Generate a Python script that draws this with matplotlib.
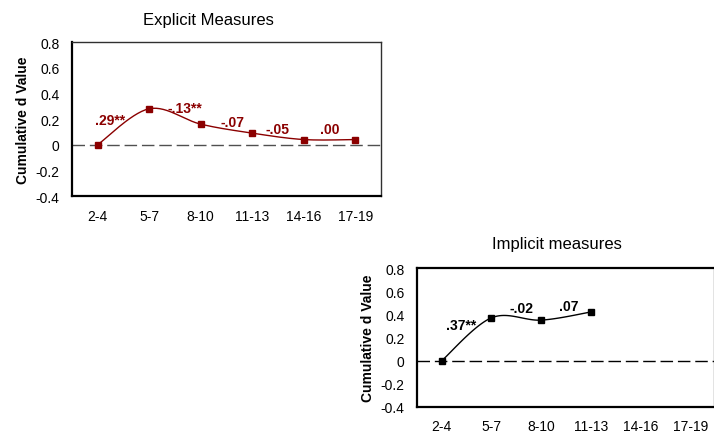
import matplotlib
matplotlib.use("Agg")
import matplotlib.pyplot as plt
import numpy as np

plt.rcParams["font.family"] = ["Liberation Sans", "DejaVu Sans"]

AGE_GROUPS = ["2-4", "5-7", "8-10", "11-13", "14-16", "17-19"]
YTICKS = [-0.4, -0.2, 0, 0.2, 0.4, 0.6, 0.8]
YTICK_LABELS = ["-0.4", "-0.2", "0", "0.2", "0.4", "0.6", "0.8"]

EXPLICIT_D = [0.0, 0.28, 0.16, 0.09, 0.04, 0.04]
EXPLICIT_LABELS = [".29**", "-.13**", "-.07", "-.05", ".00"]
EXPLICIT_LABEL_POS = [(0.24, 0.195), (1.69, 0.285), (2.61, 0.18), (3.5, 0.125), (4.51, 0.125)]

IMPLICIT_D = [0.0, 0.37, 0.35, 0.42]
IMPLICIT_LABELS = [".37**", "-.02", ".07"]
IMPLICIT_LABEL_POS = [(0.385, 0.305), (1.61, 0.455), (2.56, 0.475)]

DARK_RED = "#8b0000"


def smooth(xs, ys, n=30):
    # Excel-style smoothed line: Catmull-Rom bezier through the points
    p = np.column_stack([xs, ys]).astype(float)
    p_ext = np.vstack([p[0], p, p[-1]])
    t = np.linspace(0, 1, n)[:, None]
    out = []
    for i in range(len(p) - 1):
        p0, p1, p2, p3 = p_ext[i], p_ext[i + 1], p_ext[i + 2], p_ext[i + 3]
        c1 = p1 + (p2 - p0) / 6
        c2 = p2 - (p3 - p1) / 6
        seg = ((1 - t) ** 3) * p1 + 3 * ((1 - t) ** 2) * t * c1 + 3 * (1 - t) * t ** 2 * c2 + t ** 3 * p2
        out.append(seg if i == 0 else seg[1:])
    out = np.vstack(out)
    return out[:, 0], out[:, 1]


def setup_axis(ax, zero_color):
    ax.set_xlim(-0.5, len(AGE_GROUPS) - 0.5)
    ax.set_ylim(-0.4, 0.8)
    ax.set_xticks(range(len(AGE_GROUPS)))
    ax.set_xticklabels(AGE_GROUPS, fontsize=10)
    ax.set_yticks(YTICKS)
    ax.set_yticklabels(YTICK_LABELS, fontsize=10)
    ax.tick_params(length=0, pad=9)
    ax.set_ylabel("Cumulative d Value", fontsize=10, fontweight="bold", labelpad=4)
    ax.axhline(0, color=zero_color, linewidth=1.0, dashes=(9, 3.5), zorder=1)


fig = plt.figure(figsize=(7.14, 4.35), dpi=100)

# explicit measures panel
ax1 = fig.add_axes([0.1008, 0.5471, 0.4328, 0.354])
setup_axis(ax1, "#505050")
for side in ["left", "bottom"]:
    ax1.spines[side].set_linewidth(1.6)
    ax1.spines[side].set_color("black")
for side in ["top", "right"]:
    ax1.spines[side].set_linewidth(1.0)
    ax1.spines[side].set_color("#303030")
x1 = np.arange(len(EXPLICIT_D))
sx, sy = smooth(x1, EXPLICIT_D)
ax1.plot(sx, sy, color=DARK_RED, linewidth=1.0, zorder=3)
ax1.plot(x1, EXPLICIT_D, linestyle="none", marker="s", markersize=4, color=DARK_RED, zorder=4)
for text, (tx, ty) in zip(EXPLICIT_LABELS, EXPLICIT_LABEL_POS):
    ax1.text(tx, ty, text, color=DARK_RED, fontsize=10, fontweight="bold", ha="center", va="center")
fig.text(208 / 714, 1 - 20 / 435, "Explicit Measures", fontsize=12, ha="center", va="center")

# implicit measures panel
ax2 = fig.add_axes([0.584, 0.0621, 0.4174, 0.3195])
setup_axis(ax2, "black")
for side in ["left", "bottom", "top", "right"]:
    ax2.spines[side].set_linewidth(1.6)
    ax2.spines[side].set_color("black")
x2 = np.arange(len(IMPLICIT_D))
sx, sy = smooth(x2, IMPLICIT_D)
ax2.plot(sx, sy, color="black", linewidth=1.0, zorder=3)
ax2.plot(x2, IMPLICIT_D, linestyle="none", marker="s", markersize=4, color="black", zorder=4)
for text, (tx, ty) in zip(IMPLICIT_LABELS, IMPLICIT_LABEL_POS):
    ax2.text(tx, ty, text, color="black", fontsize=10, fontweight="bold", ha="center", va="center")
fig.text(557 / 714, 1 - 245 / 435, "Implicit measures", fontsize=12, ha="center", va="center")

fig.savefig("out.png", dpi=100)
